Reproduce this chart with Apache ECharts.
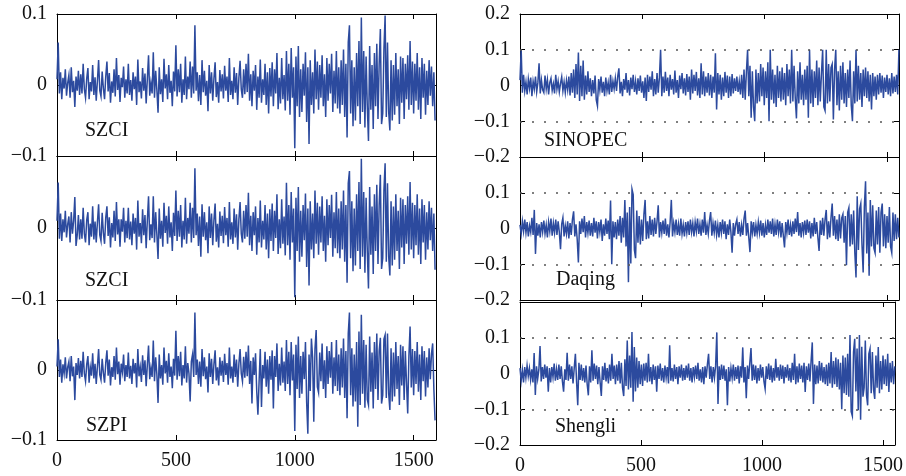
<!DOCTYPE html>
<html><head><meta charset="utf-8">
<script src="https://cdn.jsdelivr.net/npm/echarts@6/dist/echarts.min.js"></script>
<style>html,body{margin:0;padding:0;background:#fff}#c{width:906px;height:476px}</style>
</head><body><div id="c"></div>
<script>
// values in thousandths (×0.001)
const szciA = [8,60,-12,18,-20,10,-5,22,-15,3,14,-18,25,-10,6,-31,12,-8,20,-14,
15,-12,30,-6,-18,9,24,-20,4,-9,28,-14,11,-22,6,35,-8,-16,19,-5,
-20,12,33,-9,17,-25,5,-11,22,-16,38,-7,14,-24,10,-3,26,-18,8,-12,
30,-14,7,-22,18,-6,12,-28,36,-10,5,-19,24,-8,16,-26,9,42,-15,3,
-12,46,-18,20,-7,-39,25,-13,8,-24,37,-5,15,-20,28,-11,6,-30,19,-9,
56,-16,22,-10,30,-25,8,-14,40,-20,12,-6,33,-18,26,-12,84,-8,18,-23,
14,-28,35,-10,20,-15,6,-37,28,-12,18,-22,9,32,-17,4,-25,21,-9,15,
-19,27,-8,12,-24,38,-14,6,-20,25,-11,17,-28,10,34,-6,-18,22,-13,30,
-10,44,-22,15,-30,20,-8,28,-35,12,-18,36,-25,8,-14,30,-28,18,-40,24,
-16,32,-30,22,-12,45,-34,10,-26,38,-20,14,-36,48,-22,30,-42,52,-18,25,
-89,40,-30,55,-45,22,-38,30,-15,46,-52,25,-83,35,-28,18,-40,50,-20,33,
-35,28,-18,42,-30,15,-45,38,-22,30,-12,44,-38,20,-26,48,-33,25,-40,35,
-28,50,-45,30,-74,60,84,-40,35,-58,25,-50,45,-30,62,-55,95,-38,48,-60,
40,-30,-79,55,-35,28,-62,45,-30,58,-48,30,79,-55,-40,50,98,-45,60,-38,
-64,35,-50,28,-42,45,-30,22,-55,40,-25,38,-48,30,-20,42,-35,62,-28,33,
-40,30,-22,45,-35,25,-48,38,-18,30,-42,20,-28,35,-15,26,-30,18,-50];

const szciB = [10,63,-15,20,-18,12,-6,24,-13,5,16,-20,22,-8,10,43,-25,-10,18,-16,
12,-15,28,-8,-20,11,22,-24,6,-12,30,-16,9,-20,8,33,-10,-18,21,-7,
-22,14,30,-11,15,-27,7,-13,24,-18,36,-9,12,-26,12,-5,28,-20,10,-14,
28,-16,9,-24,20,-8,14,-30,38,-12,7,-21,26,-10,18,-28,11,44,-17,5,
-14,44,-20,22,-9,-43,27,-15,10,-26,35,-7,17,-22,30,-13,8,-32,21,-11,
52,-18,24,-12,32,-27,10,-16,42,-22,14,-8,35,-20,28,-14,83,-10,20,-25,
16,-40,33,-12,22,-17,8,-35,30,-14,20,-24,11,34,-19,6,-27,23,-11,17,
-21,29,-10,14,-26,36,-16,8,-22,27,-13,19,-30,12,36,-8,-20,24,-15,32,
-12,49,-24,17,-32,22,-10,30,-37,14,-20,38,-27,10,-16,32,-30,20,-42,26,
-18,34,-32,24,-14,47,-36,12,-28,40,-22,16,-38,63,-24,32,-44,50,-20,27,
-96,42,-32,57,-47,24,-40,32,-17,48,-54,27,-80,37,-30,20,-42,52,-22,35,
-37,30,-20,44,-32,17,-47,40,-24,32,-14,46,-40,22,-28,50,-35,27,-42,37,
-30,52,-47,32,-76,62,79,-42,37,-60,27,-52,47,-32,64,-57,96,-40,50,-62,
42,-32,-84,57,-37,30,-64,47,-32,60,-50,32,74,-57,-42,52,90,-47,62,-40,
-66,37,-52,30,-44,47,-32,24,-57,42,-27,40,-50,32,-22,44,-37,64,-30,35,
-42,32,-24,47,-37,27,-50,40,-20,32,-44,22,-30,37,-17,28,-32,20,-58];

const szpi = [5,44,-10,15,-18,8,-5,18,-12,4,12,-16,20,-9,5,-43,10,-7,17,-12,
13,-10,26,-5,-16,8,20,-18,4,-8,24,-12,9,-20,5,30,-7,-14,16,-4,
-18,10,28,-8,15,-22,4,-10,20,-14,32,-6,12,-21,9,-3,22,-16,7,-10,
25,-12,6,-20,16,-5,10,-25,30,-9,4,-17,21,-7,14,-23,8,35,-13,3,
-10,42,-16,18,-6,-47,22,-12,7,-21,32,-5,13,-18,24,-10,5,-26,16,-8,
56,-14,20,-9,26,-22,7,-12,34,-18,10,-5,-45,12,22,-10,82,-7,15,-20,
12,-24,30,-9,18,-13,5,-32,24,-10,16,-20,8,28,-15,4,-22,18,-8,13,
-17,23,-7,10,-21,32,-12,5,-18,22,-10,15,-24,9,30,-5,-16,19,-11,26,
-9,35,-20,13,-48,18,-7,24,-30,-64,-16,30,-53,7,-12,26,-24,15,-34,20,
-14,28,-55,20,-10,38,-30,9,-22,32,-18,12,-30,43,-20,26,-36,40,-15,22,
-87,36,-27,48,-40,20,-34,26,-13,40,-46,-91,22,-30,45,18,-74,30,57,-24,
-32,25,-16,38,-27,14,-40,34,-20,27,-11,40,-34,18,-23,43,-30,22,-36,31,
-25,45,-40,27,-69,52,82,-36,31,-52,22,-45,40,-81,55,-50,79,-34,43,-54,
36,-42,-50,48,-31,25,-55,40,-27,52,-43,27,46,-48,-36,44,50,-40,52,-34,
-57,31,-45,25,-38,40,-27,20,-50,36,-22,34,-43,27,-18,-62,20,62,-25,30,
-36,27,-20,40,-31,22,-43,34,-16,27,-38,18,-25,31,-13,23,38,-27,-72];

const sinopec = [15,100,-20,30,-15,10,-25,18,-8,22,-30,12,-10,25,-18,8,62,-22,15,-12,
-20,28,-10,16,-25,8,20,-14,5,-22,30,-10,12,-18,6,24,-15,10,-20,14,
-12,25,-28,35,-20,45,-35,60,-25,92,-43,55,-30,70,-40,28,-25,40,-18,20,
-30,15,-22,28,-40,-57,18,-12,25,-20,10,-30,22,-15,8,-25,30,-18,12,-10,
20,-15,25,48,-22,10,-30,18,-12,35,-20,15,-28,22,-10,30,-18,12,-25,20,
-15,28,-20,12,-35,22,-43,30,-18,25,-12,40,-30,18,-25,35,-20,22,100,-30,
25,-20,38,-15,22,-30,30,-12,18,-25,42,-20,15,-35,28,-10,35,-22,20,-28,
32,-18,25,-40,45,-22,30,-15,38,-28,20,-35,62,-25,40,-30,25,-20,35,-28,
30,-35,25,-20,90,-67,35,-25,30,-40,22,-30,38,-20,28,-35,25,-30,32,-22,
20,-15,25,-18,12,-25,30,-35,45,-40,38,100,-30,55,-90,40,-60,-100,45,-50,
35,-45,60,-30,50,-55,40,-35,65,-100,100,-40,45,-50,30,-60,55,-35,40,-45,
50,-40,35,-55,60,-30,45,-50,100,-45,55,-35,-92,40,-50,65,-40,30,-55,45,
-40,55,-90,100,-50,45,-60,40,-35,70,-55,50,-45,35,100,-60,-70,100,-50,60,
-45,50,60,-95,45,100,-55,40,-70,55,-40,65,-50,35,-60,45,-35,70,-55,-100,
40,-50,100,-45,55,-40,35,-60,45,-30,50,-35,40,-45,30,-67,35,-30,25,-40,
30,-25,35,-20,28,-35,22,-18,30,-25,20,-30,35,-22,25,-18,30,-25,100];

const daqing = [10,-15,20,-8,25,-12,18,-22,8,-10,30,-18,52,-71,15,-20,12,-25,18,-10,
22,-15,10,-25,18,-8,28,-20,15,-12,25,-18,20,-10,-58,12,30,-22,8,-15,
20,-28,15,-18,25,48,-22,12,-30,-95,20,-15,28,-10,35,-25,18,-12,22,-20,
15,-22,30,-12,20,-28,18,-10,25,-35,12,-20,28,-15,22,-30,78,-100,20,-25,
18,-30,25,-20,35,-40,30,-25,80,-50,45,-150,60,-98,110,95,-60,-83,50,-40,
35,-45,25,-35,40,80,-30,20,-28,35,-18,25,-22,30,-15,20,65,-25,18,-12,
22,-15,28,-20,12,-25,18,80,-22,15,-10,25,-18,12,-20,28,-15,10,-22,18,
-12,20,-18,25,-10,15,-22,18,-8,28,-15,12,-20,25,-12,46,-18,10,-15,22,
46,-20,15,-12,22,-18,10,-25,18,-12,25,-15,20,-30,12,-18,25,-10,-68,15,
-20,12,25,-15,18,-22,10,-18,28,50,-20,15,-25,-66,20,-12,18,-22,10,-15,
18,-12,22,-20,15,-25,10,-18,25,-12,20,-15,28,-22,12,-18,25,-10,20,-25,
15,-20,-53,18,-12,25,-18,10,-22,20,-15,28,-10,46,-20,15,-25,18,-12,22,
-18,25,-12,20,-28,15,-22,30,-15,18,-25,-63,22,-18,30,-20,25,52,-30,20,
-25,30,70,-20,35,-30,25,-35,40,-28,30,40,-40,35,-103,45,58,-50,40,-45,
50,-68,-137,90,-60,55,70,-45,-123,60,132,-70,45,-132,80,-50,65,-55,-68,50,
-45,60,-68,45,70,-50,40,-55,35,-40,60,-50,-68,45,-35,40,-30,30,-25];

const shengli = [15,-20,10,-25,18,-12,22,-8,15,-18,12,-25,57,-60,20,-15,10,77,-22,18,
-15,25,-12,20,-51,15,-25,18,-10,28,-20,12,-18,25,-15,20,-22,-51,12,-18,
58,-20,25,-15,20,-28,15,55,-22,-89,30,-18,25,-20,15,-25,22,-30,-61,20,
-25,65,-20,28,-15,22,-30,18,-25,-63,20,-18,30,-22,15,-28,25,-20,55,-15,
22,-30,25,-20,35,-28,30,-40,-63,40,-35,92,-45,50,-40,116,-79,74,-50,45,
-40,35,-30,25,-35,28,-20,30,-25,55,-22,18,-30,25,-18,20,-51,22,-15,28,
-20,15,-25,22,-12,18,-28,79,-20,15,-22,25,-15,18,-30,20,-12,25,-20,15,
-18,22,-12,28,-20,15,-25,18,-10,22,-15,30,-20,12,-25,18,-30,20,-12,25,
55,-15,20,-25,18,-12,22,115,-85,20,-18,25,-15,22,-20,12,-89,18,-22,15,
-12,25,-20,18,-15,22,-28,20,-12,73,-25,18,-69,22,-15,30,71,-20,25,-18,
22,-28,15,-20,25,-12,18,-22,-43,20,-15,28,-18,22,-25,15,-20,41,-12,18,
-20,25,-15,22,-28,18,-12,25,-20,15,-25,30,-18,55,-30,20,-25,28,-15,22,
-25,30,-52,20,-18,28,-22,35,87,-85,25,-30,22,-28,35,-20,30,-25,18,-30,
25,-35,30,-28,60,-40,35,-30,45,-38,40,-45,30,-100,50,-55,45,-60,55,-65,
108,-107,-119,60,97,-50,70,-103,108,-129,75,-65,-40,92,-60,-89,55,69,-55,60,
-45,-71,50,-40,74,-55,35,-45,50,-30,40,-35,55,-52,30,-25,35,-30,20];

const seriesNames = ['SZCI', 'SZCI', 'SZPI', 'SINOPEC', 'Daqing', 'Shengli'];
const seriesValues = [szciA, szciB, szpi, sinopec, daqing, shengli];
const UNIT = 0.001;
const xTicks = [0, 500, 1000, 1500];
const leftYRange = 0.1, rightYRange = 0.2;
const refLines = [0.1, -0.1];
const leftStep = 5, rightStep = 4.87;          // samples per stored value
const leftXMax = 1594, rightXMax = 1549;

// ---- layout / style (not data) ----
const FONT = '"Liberation Serif", "DejaVu Serif", serif';
const LINE = '#2c4a9e';
const layout = [
  {left: 57, top: 14, height: 142, col: 0, row: 0, lab: [85, 121]},
  {left: 57, top: 156, height: 144, col: 0, row: 1, lab: [85, 271]},
  {left: 57, top: 300, height: 140, col: 0, row: 2, lab: [86, 416]},
  {left: 520, top: 14, height: 143, col: 1, row: 0, lab: [544, 131]},
  {left: 520, top: 157, height: 143, col: 1, row: 1, lab: [556, 270]},
  {left: 520, top: 302, height: 143, col: 1, row: 2, lab: [555, 417]}
];

const fmtY = (v) => {
  if (Math.abs(v) < 1e-9) return '0';
  return String(Math.round(v * 10) / 10).replace('-', '\u2212');
};

const grid = [], xAxis = [], yAxis = [], series = [], graphic = [];
layout.forEach((L, i) => {
  const right = L.col === 1;
  const yMax = right ? rightYRange : leftYRange;
  const xMax = right ? rightXMax : leftXMax;
  const step = right ? rightStep : leftStep;
  grid.push({left: L.left, top: L.top, width: 379, height: L.height, containLabel: false});
  const axLine = {show: true, onZero: false, lineStyle: {color: '#000', width: 1}};
  const tick = {show: true, inside: true, length: 5, lineStyle: {color: '#000', width: 1}};
  const xBase = {gridIndex: i, type: 'value', min: 0, max: xMax, interval: 500,
    axisLine: axLine, axisTick: tick, splitLine: {show: false}};
  xAxis.push(Object.assign({}, xBase, {position: 'bottom',
    axisLabel: {show: L.row === 2, margin: 11, fontFamily: FONT, fontSize: 20, color: '#111',
      showMaxLabel: false,
      formatter: (v) => xTicks.indexOf(v) >= 0 ? String(v) : ''}}));
  xAxis.push(Object.assign({}, xBase, {position: 'top', axisLabel: {show: false}}));
  const yBase = {gridIndex: i, type: 'value', min: -yMax, max: yMax, interval: 0.1,
    axisLine: axLine, axisTick: tick, splitLine: {show: false}};
  yAxis.push(Object.assign({}, yBase, {position: 'left',
    axisLabel: {show: true, margin: 10, fontFamily: FONT, fontSize: 20, color: '#111',
      formatter: (v) => (L.row > 0 && Math.abs(v - yMax) < 1e-9) ? '' : fmtY(v)}}));
  yAxis.push(Object.assign({}, yBase, {position: 'right', axisLabel: {show: false}}));
  const s = {
    type: 'line', name: seriesNames[i] + i, xAxisIndex: 2 * i, yAxisIndex: 2 * i,
    data: seriesValues[i].map((v, k) => [k * step, v * UNIT]),
    showSymbol: false, symbol: 'none', sampling: 'none', clip: true, animation: false,
    lineStyle: {color: LINE, width: 1.5, join: 'miter'}, itemStyle: {color: LINE}, z: 3
  };
  if (right) {
    s.markLine = {silent: true, symbol: 'none', animation: false, label: {show: false},
      lineStyle: {type: [2, 10], color: '#555', width: 1.5},
      data: refLines.map(y => ({yAxis: y}))};
  }
  series.push(s);
  graphic.push({type: 'text', left: L.lab[0], top: L.lab[1], z: 10,
    style: {text: seriesNames[i], font: '20px ' + FONT, fill: '#111'}});
});

const chart = echarts.init(document.getElementById('c'), null, {renderer: 'canvas'});
chart.setOption({animation: false, backgroundColor: '#fff', grid, xAxis, yAxis, series, graphic});
</script></body></html>
